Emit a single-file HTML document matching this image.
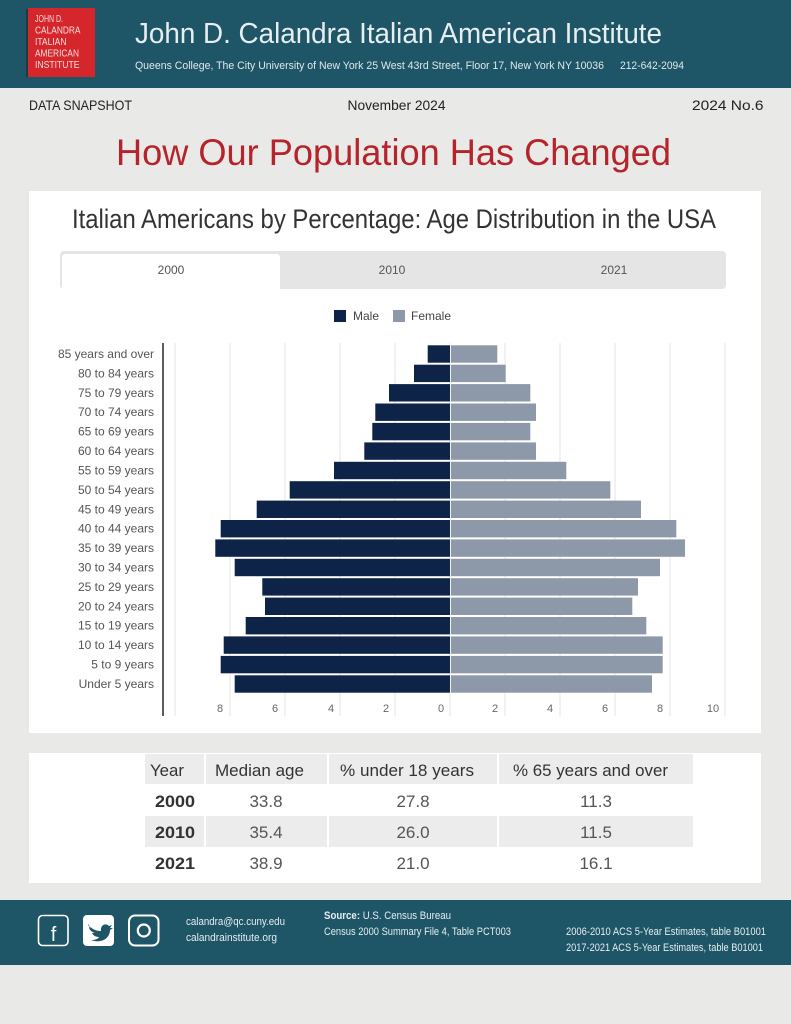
<!DOCTYPE html>
<html><head><meta charset="utf-8">
<style>
html,body{margin:0;padding:0;background:#e9e9e8;}
svg{display:block;}
text{font-family:"Liberation Sans",sans-serif;}
</style></head>
<body>
<svg width="791" height="1024" viewBox="0 0 791 1024" xmlns="http://www.w3.org/2000/svg">
<rect x="0" y="0" width="791" height="1024" fill="#e9e9e8"/>
<!-- Header -->
<rect x="0" y="0" width="791" height="88" fill="#1e5567"/>
<rect x="26" y="9" width="3" height="68" fill="#1a2a30" opacity="0.6"/>
<rect x="28" y="8" width="67" height="69" fill="#d4262b"/>
<g fill="#f4dede" font-size="10.5">
<text x="35" y="22" textLength="28" lengthAdjust="spacingAndGlyphs">JOHN D.</text>
<text x="35" y="33.5" textLength="45.5" lengthAdjust="spacingAndGlyphs">CALANDRA</text>
<text x="35" y="45" textLength="31.5" lengthAdjust="spacingAndGlyphs">ITALIAN</text>
<text x="35" y="56.5" textLength="44" lengthAdjust="spacingAndGlyphs">AMERICAN</text>
<text x="35" y="68" textLength="44.5" lengthAdjust="spacingAndGlyphs">INSTITUTE</text>
</g>
<text x="135" y="43" font-size="29" fill="#e6eef0" textLength="527" lengthAdjust="spacingAndGlyphs">John D. Calandra Italian American Institute</text>
<text x="135" y="69" font-size="11" fill="#e0e8ea" textLength="469" lengthAdjust="spacingAndGlyphs">Queens College, The City University of New York  25 West 43rd Street, Floor 17, New York NY 10036</text>
<text x="620" y="69" font-size="11" fill="#e0e8ea" textLength="64" lengthAdjust="spacingAndGlyphs">212-642-2094</text>

<!-- Sub band -->
<g font-size="14" fill="#222">
<text x="29" y="110" textLength="103" lengthAdjust="spacingAndGlyphs">DATA SNAPSHOT</text>
<text x="347.5" y="110" textLength="98" lengthAdjust="spacingAndGlyphs">November 2024</text>
<text x="692" y="110" textLength="71.5" lengthAdjust="spacingAndGlyphs">2024  No.6</text>
</g>

<!-- Main title -->
<text x="116" y="165" font-size="37" fill="#b5242a" textLength="555" lengthAdjust="spacingAndGlyphs">How Our Population Has Changed</text>

<!-- Chart card -->
<rect x="29" y="191" width="732" height="542" fill="#ffffff"/>
<text x="72" y="228" font-size="27" fill="#333" textLength="644" lengthAdjust="spacingAndGlyphs">Italian Americans by Percentage: Age Distribution in the USA</text>

<!-- Tabs -->
<rect x="60" y="251" width="666" height="38" rx="4" fill="#e5e5e5"/>
<path d="M62,290 L62,258 Q62,254 66,254 L276,254 Q280,254 280,258 L280,290 Z" fill="#ffffff"/>
<g font-size="12" fill="#555" text-anchor="middle">
<text x="171" y="274">2000</text>
<text x="392" y="274">2010</text>
<text x="614" y="274">2021</text>
</g>

<!-- Legend -->
<rect x="334" y="310" width="12" height="12" fill="#0d2347"/>
<text x="353" y="320" font-size="12" fill="#444">Male</text>
<rect x="393" y="310" width="12" height="12" fill="#8d99a8"/>
<text x="411" y="320" font-size="12" fill="#444">Female</text>

<!-- Gridlines -->
<g stroke="#e6e6e6" stroke-width="1">
<line x1="175" y1="343" x2="175" y2="716"/>
<line x1="230" y1="343" x2="230" y2="716"/>
<line x1="285" y1="343" x2="285" y2="716"/>
<line x1="340" y1="343" x2="340" y2="716"/>
<line x1="395" y1="343" x2="395" y2="716"/>
<line x1="450" y1="343" x2="450" y2="716"/>
<line x1="505" y1="343" x2="505" y2="716"/>
<line x1="560" y1="343" x2="560" y2="716"/>
<line x1="615" y1="343" x2="615" y2="716"/>
<line x1="670" y1="343" x2="670" y2="716"/>
<line x1="725" y1="343" x2="725" y2="716"/>
</g>
<line x1="163" y1="343" x2="163" y2="716" stroke="#333" stroke-width="1.6"/>

<!-- Bars -->
<g fill="#0d2347">
<rect x="427.7" y="345.3" width="22.3" height="17.4"/>
<rect x="414" y="364.7" width="36" height="17.4"/>
<rect x="389" y="384.1" width="61" height="17.4"/>
<rect x="375.3" y="403.5" width="74.7" height="17.4"/>
<rect x="372.3" y="422.9" width="77.7" height="17.4"/>
<rect x="364.3" y="442.4" width="85.7" height="17.4"/>
<rect x="334" y="461.8" width="116" height="17.4"/>
<rect x="289.7" y="481.2" width="160.3" height="17.4"/>
<rect x="256.7" y="500.6" width="193.3" height="17.4"/>
<rect x="220.7" y="520" width="229.3" height="17.4"/>
<rect x="215.3" y="539.4" width="234.7" height="17.4"/>
<rect x="234.7" y="558.8" width="215.3" height="17.4"/>
<rect x="262.3" y="578.2" width="187.7" height="17.4"/>
<rect x="265" y="597.6" width="185" height="17.4"/>
<rect x="245.7" y="617" width="204.3" height="17.4"/>
<rect x="223.7" y="636.4" width="226.3" height="17.4"/>
<rect x="220.7" y="655.9" width="229.3" height="17.4"/>
<rect x="234.7" y="675.3" width="215.3" height="17.4"/>
</g>
<g fill="#8d99a8">
<rect x="451" y="345.3" width="46.3" height="17.4"/>
<rect x="451" y="364.7" width="54.7" height="17.4"/>
<rect x="451" y="384.1" width="79.3" height="17.4"/>
<rect x="451" y="403.5" width="85" height="17.4"/>
<rect x="451" y="422.9" width="79.3" height="17.4"/>
<rect x="451" y="442.4" width="85" height="17.4"/>
<rect x="451" y="461.8" width="115.3" height="17.4"/>
<rect x="451" y="481.2" width="159.3" height="17.4"/>
<rect x="451" y="500.6" width="190" height="17.4"/>
<rect x="451" y="520" width="225.3" height="17.4"/>
<rect x="451" y="539.4" width="234" height="17.4"/>
<rect x="451" y="558.8" width="209" height="17.4"/>
<rect x="451" y="578.2" width="187" height="17.4"/>
<rect x="451" y="597.6" width="181.3" height="17.4"/>
<rect x="451" y="617" width="195.3" height="17.4"/>
<rect x="451" y="636.4" width="211.7" height="17.4"/>
<rect x="451" y="655.9" width="211.7" height="17.4"/>
<rect x="451" y="675.3" width="201" height="17.4"/>
</g>

<!-- Y labels -->
<g font-size="12" fill="#555" text-anchor="end">
<text x="154" y="358">85 years and over</text>
<text x="154" y="377.4">80 to 84 years</text>
<text x="154" y="396.8">75 to 79 years</text>
<text x="154" y="416.2">70 to 74 years</text>
<text x="154" y="435.6">65 to 69 years</text>
<text x="154" y="455.1">60 to 64 years</text>
<text x="154" y="474.5">55 to 59 years</text>
<text x="154" y="493.9">50 to 54 years</text>
<text x="154" y="513.3">45 to 49 years</text>
<text x="154" y="532.7">40 to 44 years</text>
<text x="154" y="552.1">35 to 39 years</text>
<text x="154" y="571.5">30 to 34 years</text>
<text x="154" y="590.9">25 to 29 years</text>
<text x="154" y="610.3">20 to 24 years</text>
<text x="154" y="629.7">15 to 19 years</text>
<text x="154" y="649.2">10 to 14 years</text>
<text x="154" y="668.6">5 to 9 years</text>
<text x="154" y="688">Under 5 years</text>
</g>

<!-- X tick labels -->
<g font-size="11" fill="#666" text-anchor="middle">
<text x="220" y="712">8</text>
<text x="275" y="712">6</text>
<text x="331" y="712">4</text>
<text x="386" y="712">2</text>
<text x="441" y="712">0</text>
<text x="495" y="712">2</text>
<text x="550" y="712">4</text>
<text x="605" y="712">6</text>
<text x="660" y="712">8</text>
<text x="713" y="712">10</text>
</g>

<!-- Table card -->
<rect x="29" y="753" width="732" height="130" fill="#ffffff"/>
<rect x="145" y="754" width="548" height="30" fill="#ececec"/>
<rect x="145" y="816" width="548" height="31" fill="#ececec"/>
<g fill="#ffffff">
<rect x="204" y="754" width="2" height="124"/>
<rect x="327" y="754" width="2" height="124"/>
<rect x="497" y="754" width="2" height="124"/>
</g>
<g font-size="17" fill="#333">
<text x="150" y="776" textLength="34" lengthAdjust="spacingAndGlyphs">Year</text>
<text x="215" y="776" textLength="89" lengthAdjust="spacingAndGlyphs">Median age</text>
<text x="340" y="776" textLength="134" lengthAdjust="spacingAndGlyphs">% under 18 years</text>
<text x="513" y="776" textLength="155" lengthAdjust="spacingAndGlyphs">% 65 years and over</text>
</g>
<g font-size="17" fill="#333" font-weight="bold">
<text x="155" y="807" textLength="40" lengthAdjust="spacingAndGlyphs">2000</text>
<text x="155" y="838" textLength="40" lengthAdjust="spacingAndGlyphs">2010</text>
<text x="155" y="869" textLength="40" lengthAdjust="spacingAndGlyphs">2021</text>
</g>
<g font-size="17" fill="#555" text-anchor="middle">
<text x="266" y="807">33.8</text>
<text x="413" y="807">27.8</text>
<text x="596" y="807">11.3</text>
<text x="266" y="838">35.4</text>
<text x="413" y="838">26.0</text>
<text x="596" y="838">11.5</text>
<text x="266" y="869">38.9</text>
<text x="413" y="869">21.0</text>
<text x="596" y="869">16.1</text>
</g>

<!-- Footer -->
<rect x="0" y="900" width="791" height="65" fill="#1e5567"/>
<rect x="38.5" y="915.5" width="29.5" height="30" rx="4" fill="none" stroke="#ffffff" stroke-width="1.6"/>
<text x="53.5" y="941" font-size="20" fill="#ffffff" text-anchor="middle">f</text>
<rect x="83" y="915" width="31" height="31" rx="4" fill="#ffffff"/>
<path d="M88,924 C92,930 97,931 101,931 C100,926 105,922 109,926 L112,925 L110,928 L113,928 L110,930 C110,938 102,944 91,940 C95,940 98,939 99,937 C95,937 93,935 92,933 L95,933 C91,932 89,929 89,927 L92,928 C89,926 88,926 88,924 Z" fill="#1e5567"/>
<rect x="129" y="915.5" width="29.5" height="30" rx="6" fill="none" stroke="#ffffff" stroke-width="2"/>
<circle cx="143.8" cy="930.5" r="6" fill="none" stroke="#ffffff" stroke-width="2.2"/>
<g font-size="11" fill="#e6eef0">
<text x="186" y="925" textLength="99" lengthAdjust="spacingAndGlyphs">calandra@qc.cuny.edu</text>
<text x="186" y="941" textLength="91" lengthAdjust="spacingAndGlyphs">calandrainstitute.org</text>
<text x="324" y="919" textLength="127" lengthAdjust="spacingAndGlyphs"><tspan font-weight="bold">Source:</tspan> U.S. Census Bureau</text>
<text x="324" y="935" textLength="187" lengthAdjust="spacingAndGlyphs">Census 2000 Summary File 4, Table PCT003</text>
<text x="566" y="935" textLength="200" lengthAdjust="spacingAndGlyphs">2006-2010 ACS 5-Year Estimates, table B01001</text>
<text x="566" y="951" textLength="197" lengthAdjust="spacingAndGlyphs">2017-2021 ACS 5-Year Estimates, table B01001</text>
</g>
</svg>
</body></html>
